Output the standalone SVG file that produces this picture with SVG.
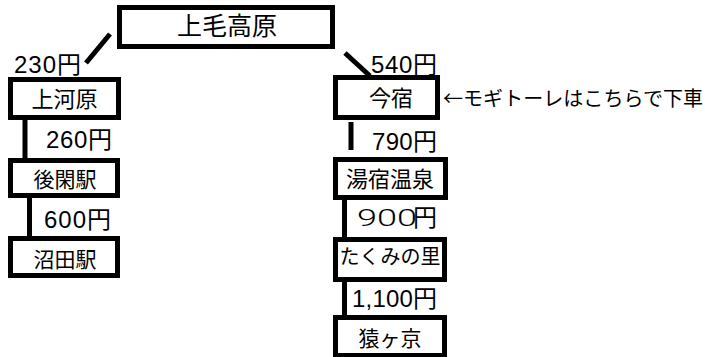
<svg xmlns="http://www.w3.org/2000/svg" width="705" height="357" viewBox="0 0 705 357">
<style>
.box{fill:#fff;stroke:#000;stroke-width:5}
.lbl{font-family:"Liberation Sans","Noto Sans CJK JP",sans-serif;fill:#000;text-anchor:middle}
.price{font-family:"Liberation Sans","Noto Sans CJK JP",sans-serif;fill:#000;font-size:24px}
.wide{font-family:"Roboto","Liberation Sans",sans-serif;font-weight:300}
.note{font-family:"Noto Sans CJK JP",sans-serif;fill:#000;font-size:20px}
.conn line{stroke:#000;stroke-width:5}
</style>
<rect width="705" height="357" fill="#fff"/>
<g class="conn" id="connectors">
<line x1="110" y1="34" x2="86" y2="63"/>
<line x1="345" y1="53" x2="370" y2="76"/>
<line x1="25" y1="119" x2="25" y2="159"/>
<line x1="29.5" y1="197" x2="29.5" y2="237"/>
<line x1="351" y1="122" x2="351" y2="150"/>
<line x1="344.5" y1="199" x2="344.5" y2="238"/>
<line x1="344.5" y1="280" x2="344.5" y2="316"/>
</g>
<g id="n-kamimoukougen"><rect class="box" x="119.5" y="7.5" width="213" height="39"/><text class="lbl" x="227" y="35" font-size="25">上毛高原</text></g>
<g id="n-kamikawara"><rect class="box" x="10.5" y="79.5" width="108" height="38"/><text class="lbl" x="64.5" y="106.5" font-size="22">上河原</text></g>
<g id="n-gokanda"><rect class="box" x="10.5" y="160.5" width="107" height="35"/><text class="lbl" x="65" y="186.5" font-size="21">後閑駅</text></g>
<g id="n-numata"><rect class="box" x="10.5" y="238.5" width="107" height="37"/><text class="lbl" x="65" y="266.5" font-size="21">沼田駅</text></g>
<g id="n-imajuku"><rect class="box" x="335.5" y="77.5" width="102" height="40"/><text class="lbl" x="391" y="105.5" font-size="22">今宿</text></g>
<g id="n-yujuku"><rect class="box" x="335.5" y="159.5" width="110" height="38"/><text class="lbl" x="390" y="186.5" font-size="22">湯宿温泉</text></g>
<g id="n-takumi"><rect class="box" x="335.5" y="239.5" width="109" height="40"/><text class="lbl" x="390" y="264" font-size="20">たくみの里</text></g>
<g id="n-sarugakyo"><rect class="box" x="335.5" y="317.5" width="109" height="38"/><text class="lbl" x="390" y="345.5" font-size="21">猿ヶ京</text></g>
<g id="labels">
<text class="price" x="14" y="73" textLength="67">230円</text>
<text class="price" x="46" y="148" textLength="66">260円</text>
<text class="price" x="44" y="228" textLength="67">600円</text>
<text class="price" x="371" y="73" textLength="66">540円</text>
<text class="price" x="372" y="150" textLength="65">790円</text>
<text class="price" x="357" y="225.5"><tspan class="wide" textLength="60" lengthAdjust="spacingAndGlyphs">900</tspan><tspan x="413">円</tspan></text>
<text class="price" x="352" y="307" textLength="85">1,100円</text>
<text class="note" x="443" y="106" textLength="260">←モギトーレはこちらで下車</text>
</g>
</svg>
